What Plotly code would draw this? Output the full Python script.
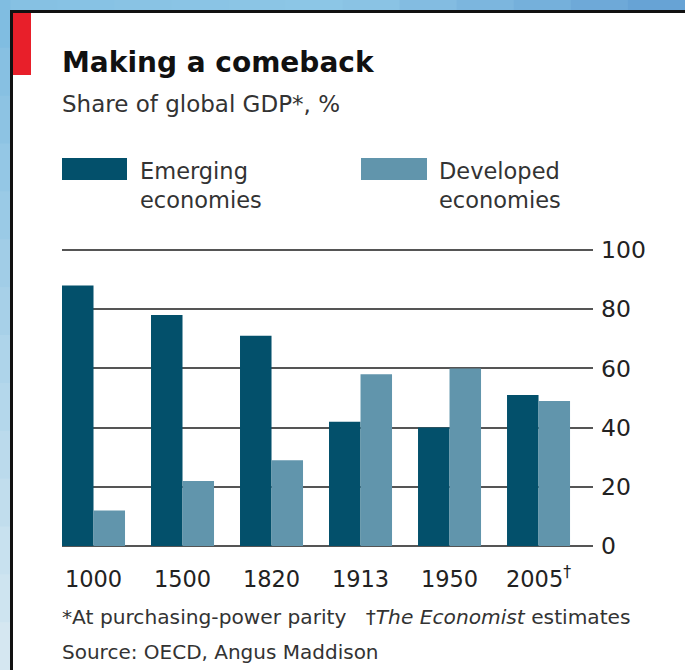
import plotly.graph_objects as go

# ---- data ----
years = ["1000", "1500", "1820", "1913", "1950", "2005"]
year_labels = ["1000", "1500", "1820", "1913", "1950", "2005<sup>†</sup>"]
emerging = [88, 78, 71, 42, 40, 51]
developed = [12, 22, 29, 58, 60, 49]
series_names = ["Emerging<br>economies", "Developed<br>economies"]
y_ticks = [0, 20, 40, 60, 80, 100]

title = "Making a comeback"
subtitle = "Share of global GDP*, %"
footnote = "*At purchasing-power parity   †<i>The Economist</i> estimates"
source = "Source: OECD, Angus Maddison"

# ---- styles ----
W, H = 685, 670
L, R = 62, 593            # plot area x in pixels
Y100, Y0 = 250, 546       # pixel rows of 100 and 0
PAD = 1.0                 # value padding so edge gridlines are drawn
PPU = (Y0 - Y100) / 100.0
T = Y100 - PAD * PPU
B = Y0 + PAD * PPU
C_EM = "#03506b"
C_DEV = "#6195ac"
GRID = "#555555"
FONT = "DejaVu Sans"
TXT = "#1a1a1a"


def xp(px):
    return (px - L) / (R - L)


def yp(py):
    return (B - py) / (B - T)


fig = go.Figure()
fig.add_trace(go.Bar(x=years, y=emerging, name=series_names[0],
                     marker=dict(color=C_EM, line=dict(width=0))))
fig.add_trace(go.Bar(x=years, y=developed, name=series_names[1],
                     marker=dict(color=C_DEV, line=dict(width=0))))

shapes = []


def rect(x0, y0, x1, y1, color, layer="below"):
    shapes.append(dict(type="rect", xref="paper", yref="paper",
                       x0=xp(x0), x1=xp(x1), y0=yp(y0), y1=yp(y1),
                       fillcolor=color, line=dict(width=0), layer=layer))


def lerp(c1, c2, t):
    a = [int(c1[i:i + 2], 16) for i in (1, 3, 5)]
    b = [int(c2[i:i + 2], 16) for i in (1, 3, 5)]
    return "#" + "".join("%02x" % round(a[k] + (b[k] - a[k]) * t) for k in range(3))


# top strip gradient
n = 12
for i in range(n):
    t = i / (n - 1)
    c = lerp("#86c1e3", "#8dc6e6", t * 2) if t < 0.5 else lerp("#8dc6e6", "#67a3d5", (t - 0.5) * 2)
    rect(i * W / n, 0, (i + 1) * W / n + 1, 10.5, c)
# left strip gradient
n = 14
for i in range(n):
    t = i / (n - 1)
    rect(0, i * H / n, 10.5, (i + 1) * H / n + 1, lerp("#80bde1", "#d5e7f1", t))
# black frame lines
rect(10, 10, W, 13, "#111111")
rect(10, 10, 13, H, "#111111")
# red tag
rect(13, 13, 31, 75, "#e81f2a")
# legend swatches
rect(62, 158, 127, 180, C_EM, layer="above")
rect(361, 158, 427, 180, C_DEV, layer="above")

ann = []


def text(px, py, s, size, bold=False, color=TXT):
    ann.append(dict(xref="paper", yref="paper", x=xp(px), y=yp(py), text=s,
                    showarrow=False, xanchor="left", yanchor="middle", align="left",
                    font=dict(family=FONT, size=size, color=color,
                              weight="bold" if bold else "normal")))


text(60, 63, title, 28, bold=True, color="#111111")
text(60, 104, subtitle, 23, color="#333333")
text(138, 186, series_names[0], 22.5, color="#333333")
text(437, 186, series_names[1], 22.5, color="#333333")
text(60, 617, footnote, 20.2, color="#333333")
text(60, 652, source, 20, color="#333333")

fig.update_layout(
    width=W, height=H,
    margin=dict(l=L, r=W - R, t=T, b=H - B, pad=0),
    paper_bgcolor="white", plot_bgcolor="rgba(0,0,0,0)",
    barmode="group", bargap=0.292, bargroupgap=0,
    showlegend=False,
    shapes=shapes, annotations=ann,
    font=dict(family=FONT, color="#333333"),
)
fig.update_xaxes(type="category", range=[-0.354, 5.612], showgrid=False,
                 zeroline=False, showline=False, ticks="",
                 tickvals=years, ticktext=year_labels,
                 tickfont=dict(family=FONT, size=22.5, color="#222222"),
                 ticklabelstandoff=14, fixedrange=True)
fig.update_yaxes(range=[-PAD, 100 + PAD], side="right", tickvals=y_ticks,
                 showgrid=True, gridcolor=GRID, gridwidth=2.2,
                 zeroline=False, showline=False, ticks="",
                 tickfont=dict(family=FONT, size=23.5, color="#222222"),
                 ticklabelstandoff=7, fixedrange=True)

fig.write_html("out.html", config={"displayModeBar": False},
               post_script="document.body.style.margin='0';")
